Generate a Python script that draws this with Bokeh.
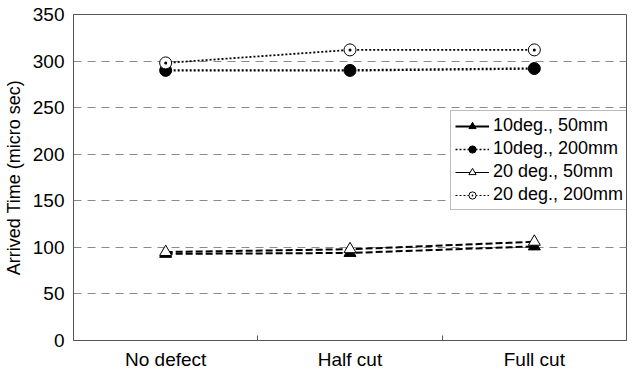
from bokeh.plotting import figure
from bokeh.models import FixedTicker, Range1d, Legend, LegendItem
from bokeh.embed import file_html
from bokeh.resources import INLINE

categories = ["No defect", "Half cut", "Full cut"]
deg10_50 = [93, 94, 101]
deg10_200 = [290, 290, 292]
deg20_50 = [95, 98, 106]
deg20_200 = [298, 312, 312]
y_ticks = [0, 50, 100, 150, 200, 250, 300, 350]

xs = [i + 0.5 for i in range(len(categories))]
FONT = "Liberation Sans"

p = figure(frame_width=553, frame_height=326, output_backend="svg", toolbar_location=None,
           x_range=Range1d(0, len(categories)), y_range=Range1d(0, 350),
           min_border_left=71, min_border_right=1, min_border_top=14, min_border_bottom=29)
p.background_fill_color = "white"
p.border_fill_color = "white"
p.outline_line_color = "#555555"
p.outline_line_width = 1

# axes
p.xaxis.ticker = FixedTicker(ticks=xs, minor_ticks=[1, 2])
p.xaxis.major_label_overrides = {x: c for x, c in zip(xs, categories)}
p.xaxis.major_tick_line_color = None
p.xaxis.major_tick_out = 0
p.xaxis.major_tick_in = 0
p.xaxis.minor_tick_in = 5
p.xaxis.minor_tick_out = 0
p.xaxis.minor_tick_line_color = "#555555"
p.xaxis.axis_line_color = "#555555"
p.xaxis.major_label_text_font = FONT
p.xaxis.major_label_text_font_size = "19px"
p.xaxis.major_label_text_color = "black"
p.xaxis.major_label_standoff = 8

p.yaxis.ticker = FixedTicker(ticks=y_ticks)
p.yaxis.major_tick_line_color = None
p.yaxis.major_tick_out = 0
p.yaxis.major_tick_in = 0
p.yaxis.minor_tick_line_color = None
p.yaxis.minor_tick_out = 0
p.yaxis.axis_line_color = "#555555"
p.yaxis.major_label_text_font = FONT
p.yaxis.major_label_text_font_size = "19px"
p.yaxis.major_label_text_color = "black"
p.yaxis.major_label_standoff = 9
p.yaxis.axis_label = "Arrived Time (micro sec)"
p.yaxis.axis_label_text_font = FONT
p.yaxis.axis_label_text_font_size = "18px"
p.yaxis.axis_label_text_font_style = "normal"
p.yaxis.axis_label_text_color = "black"
p.yaxis.axis_label_standoff = 6

p.xgrid.grid_line_color = None
p.ygrid.grid_line_color = "#8a8a8a"
p.ygrid.grid_line_dash = "8 6"
p.ygrid.grid_line_width = 1

# data lines
p.line(xs, deg20_50, line_color="black", line_width=2, line_dash="7 3")
p.line(xs, deg10_50, line_color="black", line_width=2, line_dash="7 3")
p.line(xs, deg10_200, line_color="black", line_width=2.4, line_dash="2 2")
p.line(xs, deg20_200, line_color="black", line_width=1.8, line_dash="2 2")

p.scatter(xs, deg10_50, marker="triangle", size=12, fill_color="black", line_color="black")
p.scatter(xs, deg20_50, marker="triangle", size=12, fill_color="white", line_color="black", line_width=1)
p.scatter(xs, deg10_200, marker="circle", size=12, fill_color="black", line_color="black")
p.scatter(xs, deg20_200, marker="circle_dot", size=12, fill_color="white", line_color="black", line_width=1)

# legend-only glyphs (placed outside the visible range)
off_x = [0.5, 1.5]
off_y = [-1000, -1000]
l1 = p.line(off_x, off_y, line_color="black", line_width=2)
m1 = p.scatter(off_x, off_y, marker="triangle", size=11, fill_color="black", line_color="black")
l2 = p.line(off_x, off_y, line_color="black", line_width=1.5, line_dash="2 2")
m2 = p.scatter(off_x, off_y, marker="circle", size=11, fill_color="black", line_color="black")
l3 = p.line(off_x, off_y, line_color="black", line_width=1)
m3 = p.scatter(off_x, off_y, marker="triangle", size=11, fill_color="white", line_color="black")
l4 = p.line(off_x, off_y, line_color="black", line_width=1.2, line_dash="2 2")
m4 = p.scatter(off_x, off_y, marker="circle_dot", size=11, fill_color="white", line_color="black")

legend = Legend(items=[
    LegendItem(label="10deg., 50mm", renderers=[l1, m1], index=0),
    LegendItem(label="10deg., 200mm", renderers=[l2, m2], index=0),
    LegendItem(label="20 deg., 50mm", renderers=[l3, m3], index=0),
    LegendItem(label="20 deg., 200mm", renderers=[l4, m4], index=0),
], location=(377, 130))
legend.label_text_font = FONT
legend.label_text_font_size = "18px"
legend.label_text_color = "black"
legend.glyph_width = 34
legend.glyph_height = 18
legend.label_height = 18
legend.spacing = 2
legend.padding = 4
legend.margin = 0
legend.label_standoff = 4
legend.border_line_color = "#777777"
legend.border_line_width = 1
legend.background_fill_alpha = 1
p.add_layout(legend)

open("out.html", "w").write(file_html(p, INLINE))
